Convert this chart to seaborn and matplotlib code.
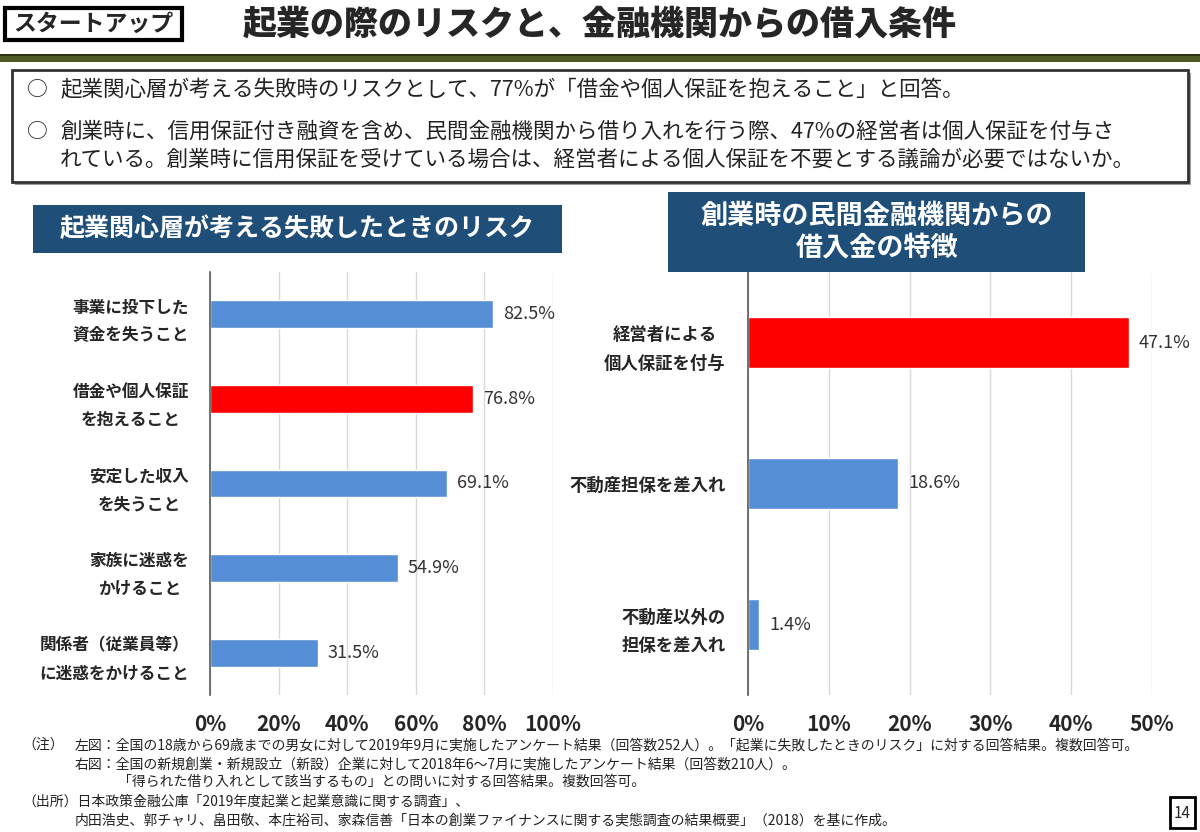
import matplotlib
matplotlib.use('Agg')
import matplotlib.pyplot as plt
import seaborn as sns
from matplotlib.patches import Rectangle
from matplotlib.ticker import FuncFormatter

# data
left_labels = ['事業に投下した\n資金を失うこと', '借金や個人保証\nを抱えること', '安定した収入\nを失うこと',
               '家族に迷惑を\nかけること', '関係者（従業員等）\nに迷惑をかけること']
left_values = [82.5, 76.8, 69.1, 54.9, 31.5]
left_colors = ['#558ed5', '#ff0000', '#558ed5', '#558ed5', '#558ed5']
left_ticks = [0, 20, 40, 60, 80, 100]

right_labels = ['経営者による\n個人保証を付与', '不動産担保を差入れ', '不動産以外の\n担保を差入れ']
right_values = [47.1, 18.6, 1.4]
right_colors = ['#ff0000', '#558ed5', '#558ed5']
right_ticks = [0, 10, 20, 30, 40, 50]

sns.set_theme(style='white')
plt.rcParams['font.family'] = ['Noto Sans CJK JP', 'DejaVu Sans']

W, H = 1200, 832
fig = plt.figure(figsize=(12, 8.32), dpi=100)
fig.patch.set_facecolor('white')


def rect(x0, y0, x1, y1):
    return [x0 / W, 1 - y1 / H, (x1 - x0) / W, (y1 - y0) / H]


def px(x, y):
    return x / W, 1 - y / H


def box(x0, y0, x1, y1, **kw):
    fig.patches.append(Rectangle((x0 / W, 1 - y1 / H), (x1 - x0) / W, (y1 - y0) / H,
                                 transform=fig.transFigure, **kw))


# header
box(5, 8, 182, 40, facecolor='white', edgecolor='black', linewidth=3)
fig.text(*px(93, 24), 'スタートアップ', fontsize=16.5, fontweight='bold', ha='center', va='center')
fig.text(*px(600, 24), '起業の際のリスクと、金融機関からの借入条件', fontsize=24.5, fontweight='heavy',
         ha='center', va='center')
box(0, 54, 1200, 62, facecolor='#4e5a24', edgecolor='none')
box(0, 54, 1200, 56, facecolor='#2d3312', edgecolor='none')

# summary box
box(15, 73, 1191, 185, facecolor='#9a9a9a', edgecolor='none')
box(12, 70, 1188, 182, facecolor='white', edgecolor='#333333', linewidth=2)
summary = [
    (90, '起業関心層が考える失敗時のリスクとして、77%が「借金や個人保証を抱えること」と回答。'),
    (132, '創業時に、信用保証付き融資を含め、民間金融機関から借り入れを行う際、47%の経営者は個人保証を付与さ'),
    (160, 'れている。創業時に信用保証を受けている場合は、経営者による個人保証を不要とする議論が必要ではないか。'),
]
for i, (yy, t) in enumerate(summary):
    if i < 2:
        fig.text(*px(37, yy), '○', fontsize=15, ha='center', va='center', color='#222222')
    fig.text(*px(60, yy), t, fontsize=15.5, ha='left', va='center', color='#222222')

# panel titles
box(33, 205, 562, 253, facecolor='#1f4e79', edgecolor='none')
fig.text(*px(297, 229), '起業関心層が考える失敗したときのリスク', fontsize=18, fontweight='bold',
         color='white', ha='center', va='center')
box(668, 192, 1085, 272, facecolor='#1f4e79', edgecolor='none')
fig.text(*px(877, 232), '創業時の民間金融機関からの\n借入金の特徴', fontsize=19.5, fontweight='bold',
         color='white', ha='center', va='center', linespacing=1.2)


def bar_panel(ax, labels, values, colors, ticks, width, label_size, spacing, ypad):
    sns.barplot(x=values, y=labels, hue=labels, palette=colors, orient='h', width=width,
                saturation=1, legend=False, ax=ax)
    ax.set_xlim(ticks[0], ticks[-1])
    ax.set_ylim(len(labels) - 0.5, -0.5)
    ax.set_xticks(ticks)
    ax.xaxis.set_major_formatter(FuncFormatter(lambda v, p: f'{v:.0f}%'))
    ax.grid(axis='x', color='#d9d9d9', linewidth=1)
    ax.grid(axis='y', visible=False)
    ax.set_axisbelow(True)
    for s in ['top', 'right', 'bottom']:
        ax.spines[s].set_visible(False)
    ax.spines['left'].set_color('#595959')
    ax.spines['left'].set_linewidth(1.2)
    ax.tick_params(axis='x', length=0, pad=14, labelsize=15)
    ax.tick_params(axis='y', length=0, pad=ypad, labelsize=label_size)
    for lbl in ax.get_xticklabels():
        lbl.set_fontweight('bold')
    for lbl in ax.get_yticklabels():
        lbl.set_fontweight('bold')
        lbl.set_linespacing(spacing)
        lbl.set_multialignment('center')
    for c in ax.containers:
        ax.bar_label(c, fmt='%.1f%%', padding=7, fontsize=13, color='#333333')
    ax.set_xlabel('')
    ax.set_ylabel('')
    ax.patch.set_alpha(0)


ax1 = fig.add_axes(rect(210, 272, 553, 695))
bar_panel(ax1, left_labels, left_values, left_colors, left_ticks, 0.33, 12, 1.7, 15)

ax2 = fig.add_axes(rect(748, 272, 1152, 695))
bar_panel(ax2, right_labels, right_values, right_colors, right_ticks, 0.36, 12.5, 1.75, 16)

# footnotes
notes = [
    (22, 745, '（注）'),
    (75, 745, '左図：全国の18歳から69歳までの男女に対して2019年9月に実施したアンケート結果（回答数252人）。「起業に失敗したときのリスク」に対する回答結果。複数回答可。'),
    (75, 764, '右図：全国の新規創業・新規設立（新設）企業に対して2018年6～7月に実施したアンケート結果（回答数210人）。'),
    (118, 782, '「得られた借り入れとして該当するもの」との問いに対する回答結果。複数回答可。'),
    (22, 802, '（出所）日本政策金融公庫「2019年度起業と起業意識に関する調査」、'),
    (75, 820, '内田浩史、郭チャリ、畠田敬、本庄裕司、家森信善「日本の創業ファイナンスに関する実態調査の結果概要」（2018）を基に作成。'),
]
for xx, yy, t in notes:
    fig.text(*px(xx, yy), t, fontsize=10, ha='left', va='center', color='#222222')

box(1170, 797, 1195, 828, facecolor='white', edgecolor='black', linewidth=2)
fig.text(*px(1182.5, 813), '14', fontsize=11, ha='center', va='center')

fig.savefig('out.png', dpi=100)
